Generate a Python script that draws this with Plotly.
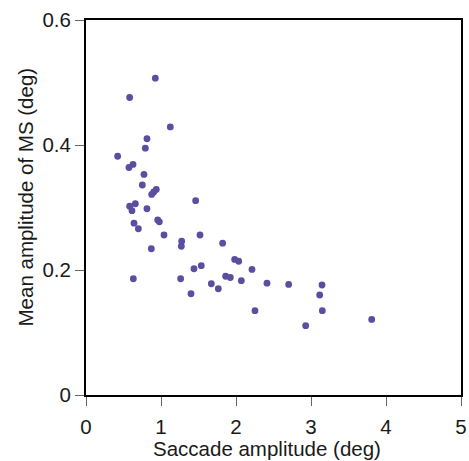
import plotly.graph_objects as go

saccade_amp = [0.924, 0.582, 1.124, 0.813, 0.791, 0.422, 0.627, 0.573, 0.773, 0.751,
               0.937, 0.903, 0.876, 1.462, 0.658, 0.582, 0.613, 0.813, 0.956, 0.978,
               0.640, 0.698, 1.040, 1.520, 1.276, 1.271, 1.822, 0.871, 1.982, 2.036,
               2.213, 1.440, 1.537, 0.631, 1.262, 1.862, 1.924, 2.071, 2.413, 1.671,
               1.764, 1.400, 2.253, 2.702, 3.147, 3.116, 3.151, 2.929, 3.809]
ms_amp = [0.507, 0.476, 0.429, 0.410, 0.395, 0.382, 0.369, 0.364, 0.353, 0.336,
          0.329, 0.325, 0.321, 0.311, 0.306, 0.302, 0.295, 0.298, 0.280, 0.277,
          0.275, 0.266, 0.256, 0.256, 0.246, 0.238, 0.243, 0.234, 0.217, 0.214,
          0.201, 0.202, 0.207, 0.186, 0.186, 0.190, 0.188, 0.183, 0.179, 0.178,
          0.170, 0.162, 0.135, 0.177, 0.176, 0.160, 0.135, 0.111, 0.121]

x_ticks = [0, 1, 2, 3, 4, 5]
y_ticks = [0, 0.2, 0.4, 0.6]
y_tick_labels = ["0", "0.2", "0.4", "0.6"]
x_title = "Saccade amplitude (deg)"
y_title = "Mean amplitude of MS (deg)"

fig = go.Figure(go.Scatter(
    x=saccade_amp, y=ms_amp, mode="markers",
    marker=dict(color="#5A4EA1", size=6.8, line=dict(width=0)),
))

font = dict(family="Liberation Sans, Arial, Helvetica, sans-serif", size=20.5, color="#1a1a1a")
L, R, T, B = 86, 8, 20, 66
PW, PH = 469 - L - R, 461 - T - B
fig.update_layout(
    width=469, height=461,
    margin=dict(l=L, r=R, t=T, b=B, autoexpand=False),
    paper_bgcolor="white", plot_bgcolor="white",
    showlegend=False, font=font,
)
fig.update_xaxes(
    range=[0, 5], tickvals=x_ticks, ticks="outside", ticklen=9, tickcolor="#666",
    tickwidth=1, ticklabelstandoff=3, showline=True, linecolor="black", linewidth=2,
    mirror=True, showgrid=False, zeroline=False, automargin=False,
)
fig.update_yaxes(
    range=[0, 0.6], tickvals=y_ticks, ticktext=y_tick_labels, ticks="outside", ticklen=9,
    tickcolor="#666", tickwidth=1,
    showline=True, linecolor="black", linewidth=2, mirror=True,
    showgrid=False, zeroline=False, automargin=False,
)
fig.add_annotation(
    text=x_title, xref="paper", yref="paper",
    x=(267 - L) / PW, y=(T + PH - 449) / PH, xanchor="center", yanchor="middle",
    showarrow=False, font=font,
)
fig.add_annotation(
    text=y_title, xref="paper", yref="paper",
    x=(25 - L) / PW, y=(T + PH - 197.5) / PH, xanchor="center", yanchor="middle",
    textangle=-90, showarrow=False, font=font,
)
fig.write_html(
    "out.html",
    config={"displayModeBar": False},
    post_script="document.body.style.margin='0';document.body.style.overflow='hidden';",
)
